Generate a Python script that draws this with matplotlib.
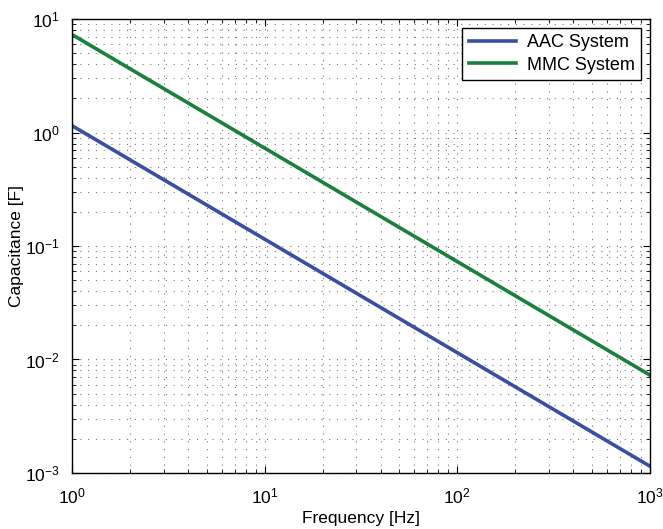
import matplotlib
matplotlib.use("Agg")
import matplotlib.pyplot as plt
from matplotlib.ticker import LogLocator, NullFormatter

plt.rcParams['font.family'] = ['Liberation Sans', 'DejaVu Sans']

# values read at each decade
freq = [1, 10, 100, 1000]
aac = [1.15, 0.115, 0.0115, 0.00115]
mmc = [7.3, 0.73, 0.073, 0.0073]

fig = plt.figure(figsize=(6.63, 5.29), dpi=100)
ax = fig.add_axes([0.1086, 0.1059, 0.8714, 0.8581])

ax.loglog(freq, aac, color='#3a4fa3', lw=2.6, label='AAC System')
ax.loglog(freq, mmc, color='#1b7f3d', lw=2.6, label='MMC System')

ax.set_xlim(1, 1000)
ax.set_ylim(1e-3, 10)
ax.xaxis.set_major_locator(LogLocator(base=10, numticks=10))
ax.yaxis.set_major_locator(LogLocator(base=10, numticks=10))
ax.xaxis.set_minor_locator(LogLocator(base=10, subs=range(2, 10), numticks=20))
ax.yaxis.set_minor_locator(LogLocator(base=10, subs=range(2, 10), numticks=20))
ax.xaxis.set_minor_formatter(NullFormatter())
ax.yaxis.set_minor_formatter(NullFormatter())

ax.grid(True, which='both', linestyle=(0, (1, 6)), color='#777777', lw=0.8)
ax.tick_params(which='both', direction='in', top=True, right=True, labelsize=12.5)
ax.tick_params(axis='x', which='major', pad=10)
ax.tick_params(axis='y', which='major', pad=9)
ax.tick_params(which='major', length=5)
ax.tick_params(which='minor', length=3)
for s in ax.spines.values():
    s.set_linewidth(1.0)

ax.set_xlabel('Frequency [Hz]', fontsize=12.5)
ax.set_ylabel('Capacitance [F]', fontsize=12.5)
ax.xaxis.set_label_coords(0.5, -0.083)
ax.yaxis.set_label_coords(-0.083, 0.5)

leg = ax.legend(loc='upper right', fontsize=13, fancybox=False, framealpha=1,
                edgecolor='black', borderaxespad=0.5, handlelength=2.6,
                borderpad=0.35, labelspacing=0.3, handletextpad=0.6)
leg.get_frame().set_linewidth(1.0)

fig.savefig('out.png', dpi=100)
